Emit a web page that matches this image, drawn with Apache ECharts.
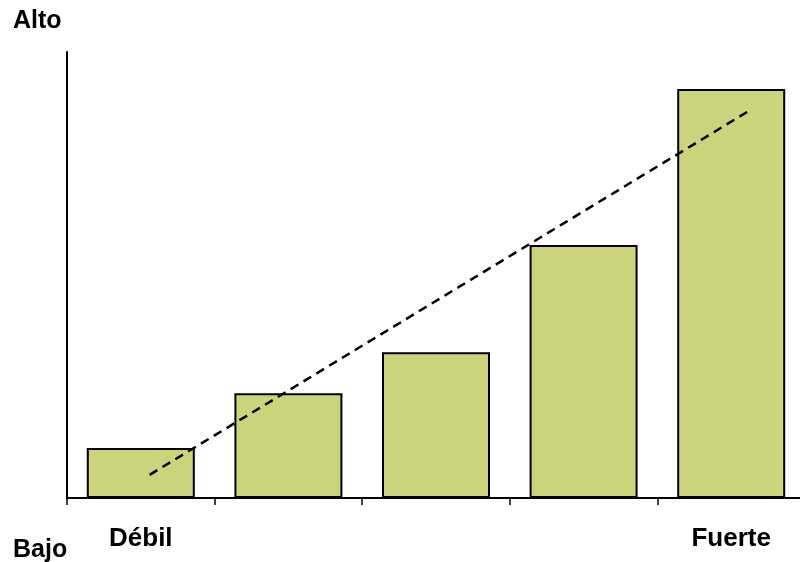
<!DOCTYPE html>
<html>
<head>
<meta charset="utf-8">
<script src="https://cdn.jsdelivr.net/npm/echarts@6/dist/echarts.min.js"></script>
<style>
  html, body { margin: 0; padding: 0; background: #fff; overflow: hidden; width: 800px; height: 562px; }
  #chart { width: 812px; height: 562px; }
</style>
</head>
<body>
<div id="chart"></div>
<script>
// Categories along the strength scale (only the ends are labelled)
const categories = ['Débil', '', '', '', 'Fuerte'];
// Bar heights on a 0–100 scale
const barValues = [11.2, 23.5, 32.7, 56.7, 91.7];
// Trend line end points: [position on the category scale, level]
const trendPoints = [[0.06, 5.2], [4.12, 86.8]];
// Level labels for the vertical scale
const levelLabels = { top: 'Alto', bottom: 'Bajo' };

const chart = echarts.init(document.getElementById('chart'));
const fontFamily = 'Arial, "Liberation Sans", sans-serif';

chart.setOption({
  animation: false,
  backgroundColor: '#fff',
  grid: { left: 67, top: 52, width: 738, height: 446, containLabel: false },
  xAxis: [
    {
      type: 'category',
      data: categories,
      boundaryGap: true,
      axisLine: { lineStyle: { color: '#000', width: 2 } },
      axisTick: { show: true, length: 7, lineStyle: { color: '#000', width: 1.5 } },
      axisLabel: { margin: 28, interval: 0, fontFamily: fontFamily, fontWeight: 'bold', fontSize: 26, color: '#000' },
      splitLine: { show: false }
    },
    {
      type: 'value',
      min: -0.5,
      max: 4.5,
      show: false
    }
  ],
  yAxis: {
    type: 'value',
    min: 0,
    max: 100,
    axisLine: { show: true, onZero: false, lineStyle: { color: '#000', width: 2 } },
    axisTick: { show: false },
    axisLabel: { show: false },
    splitLine: { show: false }
  },
  graphic: [
    { type: 'text', left: 13, top: 9, style: { text: levelLabels.top, fill: '#000', font: 'bold 25px ' + fontFamily } },
    { type: 'text', left: 13, top: 538, style: { text: levelLabels.bottom, fill: '#000', font: 'bold 25px ' + fontFamily } }
  ],
  series: [
    {
      type: 'bar',
      data: barValues,
      barWidth: 108,
      itemStyle: { color: '#CCD47B', borderColor: '#000', borderWidth: 2 },
      silent: true
    },
    {
      type: 'line',
      xAxisIndex: 1,
      data: trendPoints,
      symbol: 'none',
      lineStyle: { color: '#000', width: 2.5, type: [9, 6] },
      silent: true,
      z: 5
    }
  ]
});
</script>
</body>
</html>
